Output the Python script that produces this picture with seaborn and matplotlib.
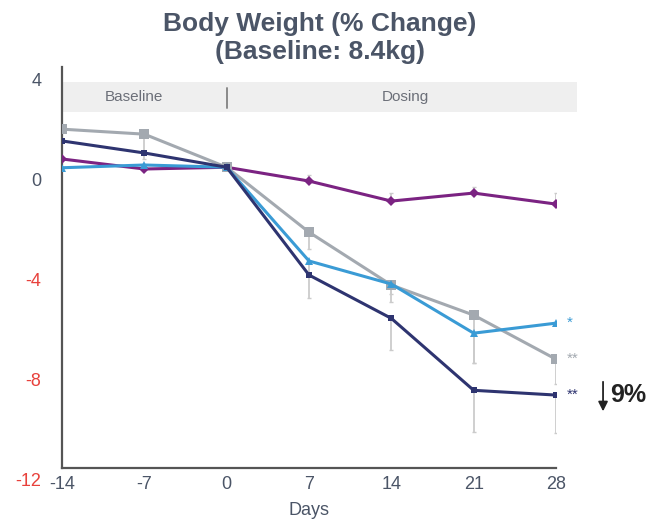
import numpy as np
import pandas as pd
import matplotlib
matplotlib.use("Agg")
import matplotlib.pyplot as plt
import matplotlib.transforms as mtransforms
import seaborn as sns

# ==========================================
# DATA
# ==========================================

days = [-14, -7, 0, 7, 14, 21, 28]

gray_vals = [1.52, 1.32, 0.0, -2.59, -4.70, -5.90, -7.66]
navy_vals = [1.05, 0.57, 0.0, -4.30, -6.03, -8.90, -9.09]
cyan_vals = [-0.02, 0.09, 0.0, -3.74, -4.66, -6.62, -6.22]
purple_vals = [0.33, -0.07, 0.0, -0.55, -1.35, -1.03, -1.47]

# one-sided error bars (lower for the dropping groups, upper for purple)
gray_err = [0, 1.0, 0, 0.68, 0.68, 1.9, 1.0]
navy_err = [0, 0, 0, 0.92, 1.28, 1.68, 1.52]
cyan_err = [0, 0, 0, 0.6, 0.4, 1.2, 0]
purple_err = [0, 0, 0, 0.24, 0.32, 0.24, 0.44]

stars = {"cyan": "*", "gray": "**", "navy": "**"}

x_ticks = [-14, -7, 0, 7, 14, 21, 28]
y_ticks = [4, 0, -4, -8, -12]

# ==========================================
# STYLE
# ==========================================

sns.set_style("white")
plt.rcParams["font.family"] = ["Liberation Sans", "DejaVu Sans"]

slate = "#4b5567"
red = "#e8413c"

colors = {
    "gray": "#a3a9b0",
    "navy": "#2e3470",
    "cyan": "#3a9bd5",
    "purple": "#7b2382",
}
markers = {"gray": "s", "navy": "s", "cyan": "^", "purple": "D"}
msizes = {"gray": 7, "navy": 4.5, "cyan": 6, "purple": 5}

series = {
    "gray": (gray_vals, gray_err, "lower"),
    "navy": (navy_vals, navy_err, "lower"),
    "cyan": (cyan_vals, cyan_err, "lower"),
    "purple": (purple_vals, purple_err, "upper"),
}

fig = plt.figure(figsize=(6.53, 5.24), dpi=100)
ax = fig.add_axes([62 / 653, 1 - 468 / 524, (556 - 62) / 653, (468 - 67) / 524])

# ==========================================
# HEADER BAND
# ==========================================

band_x = (-14, 29.8)
band_y = (2.2, 3.4)
ax.fill_between(band_x, band_y[0], band_y[1], color="#efefef",
                zorder=0, clip_on=False, lw=0)
ax.plot([0, 0], [2.38, 3.16], color="#8a8a8a", lw=1.4, zorder=1)
ax.text(-7.9, np.mean(band_y), "Baseline",
        ha="center", va="center", fontsize=11, color="#6b6f78")
ax.text(15.2, np.mean(band_y), "Dosing",
        ha="center", va="center", fontsize=11, color="#6b6f78")

# ==========================================
# ERROR BARS + LINES
# ==========================================

for name, (vals, err, side) in series.items():
    vals = np.array(vals)
    err = np.array(err)
    if side == "lower":
        yerr = [err, np.zeros_like(err)]
    else:
        yerr = [np.zeros_like(err), err]
    keep = err > 0
    ax.errorbar(np.array(days)[keep], vals[keep],
                yerr=[yerr[0][keep], yerr[1][keep]],
                fmt="none", ecolor="#cbcbcb", elinewidth=1.3,
                capsize=1.5, zorder=2)

for name in ["purple", "gray", "cyan", "navy"]:
    vals = series[name][0]
    df = pd.DataFrame({"Days": days, "Change": vals})
    sns.lineplot(data=df, x="Days", y="Change", ax=ax,
                 color=colors[name], lw=2.2,
                 marker=markers[name], markersize=msizes[name],
                 markeredgewidth=0, zorder=3)

# significance stars at the end of each line
for name, s in stars.items():
    ax.annotate(s, xy=(days[-1], series[name][0][-1]),
                xytext=(8, 0), textcoords="offset points",
                ha="left", va="center", fontsize=11,
                color=colors[name], annotation_clip=False)

# ~9% drop marker
ax.annotate("", xy=(32.0, -9.85), xytext=(32.0, -8.45),
            arrowprops=dict(arrowstyle="-|>", color="#222222", lw=1.3,
                            mutation_scale=14),
            annotation_clip=False)
ax.text(32.6, -9.1, "9%", ha="left", va="center", fontsize=18,
        fontweight="bold", color="#222222", clip_on=False)

# ==========================================
# AXES
# ==========================================

ax.set_xlim(-14, 28)
ax.set_ylim(-12, 4)
ax.set_xticks(x_ticks)
ax.set_xticklabels([str(t) for t in x_ticks])
ax.set_yticks(y_ticks)
ax.set_yticklabels([str(t) for t in y_ticks])

ax.tick_params(axis="x", length=0, pad=6, labelsize=13, labelcolor=slate)
ax.tick_params(axis="y", length=0, pad=15, labelsize=13)
for label, t in zip(ax.get_yticklabels(), y_ticks):
    label.set_color(slate if t >= 0 else red)

offset = mtransforms.ScaledTranslation(0, -0.12, fig.dpi_scale_trans)
for label in ax.get_yticklabels():
    label.set_transform(label.get_transform() + offset)

ax.set_xlabel("Days", fontsize=13, color=slate, labelpad=6)
ax.set_ylabel("")

sns.despine(ax=ax)
for side in ["left", "bottom"]:
    ax.spines[side].set_color("#555555")
    ax.spines[side].set_linewidth(1.6)

fig.text(320 / 653, 1 - 38 / 524, "Body Weight (% Change)\n(Baseline: 8.4kg)",
         ha="center", va="center", fontsize=19, fontweight="bold",
         color=slate, linespacing=1.25)

plt.savefig("out.png", dpi=100)
